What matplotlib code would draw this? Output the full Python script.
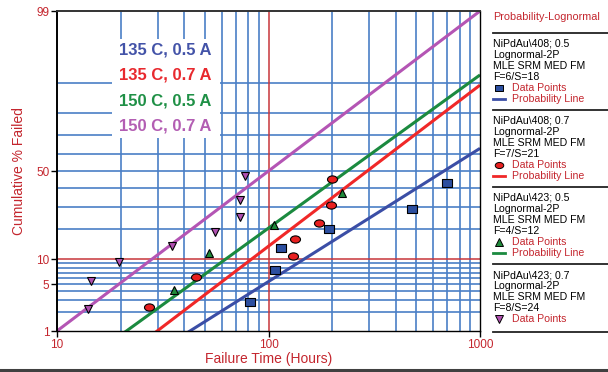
import numpy as np
import matplotlib
matplotlib.use("Agg")
import matplotlib.pyplot as plt
from matplotlib.lines import Line2D
from matplotlib.path import Path
from matplotlib.transforms import Affine2D
from statistics import NormalDist

# ---------------- data ----------------
series_names = ["135 C, 0.5 A", "135 C, 0.7 A", "150 C, 0.5 A", "150 C, 0.7 A"]
legend_names = ["NiPdAu\\408; 0.5", "NiPdAu\\408; 0.7", "NiPdAu\\423; 0.5", "NiPdAu\\423; 0.7"]
legend_counts = ["F=6/S=18", "F=7/S=21", "F=4/S=12", "F=8/S=24"]

t_135_05 = [81.8, 107.3, 114.6, 193.9, 475.5, 696.0]
p_135_05 = [2.87, 7.50, 13.0, 19.83, 28.9, 43.2]

t_135_07 = [27.3, 45.4, 131.0, 133.5, 173.9, 196.8, 199.0]
p_135_07 = [2.43, 6.22, 10.83, 16.04, 22.6, 31.2, 45.4]

t_150_05 = [35.7, 52.5, 106.2, 221.8]
p_150_05 = [4.18, 11.58, 21.6, 37.6]

t_150_07 = [14.06, 14.43, 19.7, 34.9, 55.8, 73.3, 73.3, 77.4]
p_150_07 = [2.22, 5.54, 9.37, 13.78, 18.88, 25.3, 33.7, 47.3]

# lognormal fit parameters (median hours, sigma of ln t)
line_median = [676.0, 293.0, 236.0, 100.0]
line_sigma = [1.189, 0.983, 1.034, 0.990]
legend_has_line = [True, True, True, False]

x_ticks = [10, 100, 1000]
y_ticks = [1, 5, 10, 50, 99]
y_grid = [2, 3, 4, 5, 6, 7, 8, 9, 20, 30, 40, 50, 60, 70, 80, 90]
x_grid = [20, 30, 40, 50, 60, 70, 80, 90, 200, 300, 400, 500, 600, 700, 800, 900]

# ---------------- style ----------------
W, H = 608, 372
nd = NormalDist()
def z(p):
    return nd.inv_cdf(np.clip(p, 0.0001, 99.9999) / 100.0)

line_colors = ["#3b4ea6", "#f02828", "#1b8a3f", "#b455b4"]
text_colors = ["#4353a8", "#e8292e", "#1f9046", "#b35eb3"]
face_colors = ["#2c4fa0", "#e82020", "#1f8a3a", "#b050b0"]
red_text = "#c4262e"
grid_blue = "#4a7fc6"
grid_red = "#c8363a"

ell = Path.unit_circle().transformed(Affine2D().scale(1.0, 0.72))
sq = Path([(-1, -0.75), (1, -0.75), (1, 0.75), (-1, 0.75), (-1, -0.75)],
          [Path.MOVETO, Path.LINETO, Path.LINETO, Path.LINETO, Path.CLOSEPOLY])
markers = [sq, ell, "^", "v"]
msizes = [7.0, 7.2, 6.2, 6.2]

plt.rcParams['font.family'] = ['Liberation Sans', 'DejaVu Sans']

fig = plt.figure(figsize=(W / 100, H / 100), dpi=100)
fig.patch.set_facecolor("white")

def fx(px):
    return px / W
def fy(py):
    return 1 - py / H

L, R, T, B = 57, 480, 11, 331
ax = fig.add_axes([fx(L), fy(B), (R - L) / W, (B - T) / H])
ax.set_xscale("log")
ax.set_xlim(10, 1000)
ax.set_ylim(z(1), z(99))

# gridlines
for g in y_grid:
    ax.axhline(z(g), color=grid_blue, lw=1.2, zorder=1)
ax.axhline(z(10), color=grid_red, lw=1.1, zorder=1.1)
for g in x_grid:
    ax.axvline(g, color=grid_blue, lw=1.2, zorder=1)
ax.axvline(100, color=grid_red, lw=1.1, zorder=1.1)

# probability lines
xl = np.array([10.0, 1000.0])
for i in range(4):
    zz = np.log(xl / line_median[i]) / line_sigma[i]
    ax.plot(xl, zz, color=line_colors[i], lw=2.2, zorder=3, solid_capstyle="butt")

# data points
ts = [t_135_05, t_135_07, t_150_05, t_150_07]
ps = [p_135_05, p_135_07, p_150_05, p_150_07]
for i in range(4):
    ax.plot(ts[i], [z(p) for p in ps[i]], linestyle="none", marker=markers[i],
            markersize=msizes[i], markerfacecolor=face_colors[i],
            markeredgecolor="black", markeredgewidth=0.8, zorder=4, clip_on=False)

# white box with condition labels
ax.add_artist(plt.Rectangle((fx(112), fy(138)), (220 - 112) / W, (138 - 39) / H,
                            transform=fig.transFigure, facecolor="white",
                            edgecolor="none", zorder=2))
for i, name in enumerate(series_names):
    ax.text(fx(119), fy(50 + 25.3 * i), name, transform=fig.transFigure,
            color=text_colors[i], fontsize=12, fontweight="bold",
            ha="left", va="center", zorder=2.5)

# axes styling
ax.set_yticks([z(v) for v in y_ticks])
ax.set_yticklabels([str(v) for v in y_ticks])
ax.set_xticks(x_ticks)
ax.set_xticklabels([str(v) for v in x_ticks])
ax.xaxis.set_minor_locator(matplotlib.ticker.NullLocator())
ax.tick_params(axis="both", colors="black", labelcolor=red_text, labelsize=8.5,
               length=4, width=1, direction="out", pad=1.5)
for s in ax.spines.values():
    s.set_color("black")
    s.set_linewidth(1.0)
    s.set_zorder(5)
ax.spines["left"].set_linewidth(1.4)
ax.spines["top"].set_linewidth(1.4)
ax.spines["top"].set_color("#333333")
ax.set_xlabel("Failure Time (Hours)", color=red_text, fontsize=10)
ax.set_ylabel("Cumulative % Failed", color=red_text, fontsize=10)
ax.xaxis.set_label_coords(0.5, -0.065)
ax.yaxis.set_label_coords(-0.073, 0.5)

# ---------------- legend panel ----------------
fig.text(fx(493), fy(17), "Probability-Lognormal", color=red_text, fontsize=7.8,
         ha="left", va="center")
seps = [33, 110, 187, 264, 332]
for s in seps:
    fig.add_artist(Line2D([fx(493), fx(608)], [fy(s), fy(s)], color="#222222",
                          lw=1.3, transform=fig.transFigure))
for i in range(4):
    y0 = seps[i] + 11
    rows = [legend_names[i], "Lognormal-2P", "MLE SRM MED FM", legend_counts[i]]
    for k, r in enumerate(rows):
        fig.text(fx(493), fy(y0 + 11 * k), r, color="black", fontsize=7.6,
                 ha="left", va="center")
    ym = y0 + 11 * 4
    fig.add_artist(Line2D([fx(499)], [fy(ym)], marker=markers[i],
                          markersize=msizes[i] * 0.85, markerfacecolor=face_colors[i],
                          markeredgecolor="black", markeredgewidth=0.7,
                          transform=fig.transFigure))
    fig.text(fx(512), fy(ym), "Data Points", color=red_text, fontsize=7.6,
             ha="left", va="center")
    if legend_has_line[i]:
        yl = y0 + 11 * 5
        fig.add_artist(Line2D([fx(493), fx(505)], [fy(yl), fy(yl)],
                              color=line_colors[i], lw=2.0, transform=fig.transFigure))
        fig.text(fx(512), fy(yl), "Probability Line", color=red_text, fontsize=7.6,
                 ha="left", va="center")

# bottom frame line
fig.add_artist(Line2D([0, 1], [fy(369.5), fy(369.5)], color="#404040", lw=2.2,
                      transform=fig.transFigure))

fig.savefig("out.png", dpi=100, facecolor="white")
